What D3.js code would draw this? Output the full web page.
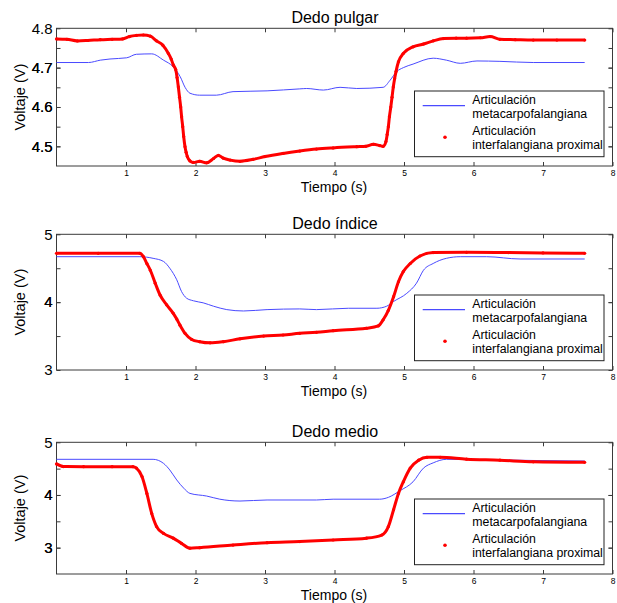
<!DOCTYPE html>
<html><head><meta charset="utf-8">
<script src="https://cdn.jsdelivr.net/npm/d3@7"></script>
<style>body{margin:0;background:#fff}svg{display:block}text{font-family:"Liberation Sans",Arial,sans-serif;fill:#000}</style>
</head><body><svg id="c" width="617" height="603"></svg>
<script>
const titles = ["Dedo pulgar", "Dedo índice", "Dedo medio"];
const legendLabels = [["Articulación","metacarpofalangiana"],["Articulación","interfalangiana proximal"]];
const xTicks = [1,2,3,4,5,6,7,8];
const yTicks1 = [4.5,4.6,4.7,4.8], yMinor1 = [4.5,4.55,4.6,4.65,4.7,4.75];
const yTicks2 = [3,4,5], yMinor2 = [3.5,4,4.5];
const yTicks3 = [3,4,5], yMinor3 = [3,3.5,4,4.5];
const yDomains = [[4.45,4.8],[3,5],[2.5,5]];

// Dedo pulgar
const p1RedT = [0,0.15,0.3,0.45,0.63,0.8,0.95,1.05,1.15,1.25,1.35,1.44,1.53,1.61,1.65,1.68,1.715,1.735,1.753,1.77,1.787,1.8,1.816,1.83,1.849,1.865,1.882,1.92,1.97,2.06,2.16,2.26,2.33,2.4,2.5,2.64,2.83,3.0,3.26,3.5,3.74,3.98,4.32,4.45,4.56,4.65,4.7,4.74,4.758,4.775,4.79,4.81,4.828,4.846,4.865,4.885,4.92,4.99,5.13,5.28,5.42,5.57,5.75,5.9,6.1,6.24,6.38,6.6,6.86,7.2,7.6];
const p1RedV = [4.773,4.772,4.768,4.769,4.771,4.772,4.773,4.779,4.782,4.783,4.780,4.768,4.757,4.736,4.722,4.707,4.695,4.675,4.651,4.625,4.600,4.575,4.550,4.525,4.499,4.485,4.474,4.463,4.459,4.462,4.458,4.469,4.477,4.470,4.465,4.462,4.467,4.474,4.482,4.488,4.493,4.496,4.499,4.500,4.505,4.502,4.500,4.512,4.530,4.550,4.575,4.600,4.625,4.651,4.672,4.690,4.715,4.736,4.753,4.760,4.768,4.774,4.775,4.775,4.776,4.779,4.772,4.771,4.770,4.770,4.770];
const p1BlueT = [0,0.46,0.63,0.77,1.01,1.15,1.37,1.54,1.68,1.78,1.85,1.92,2.06,2.3,2.54,3.03,3.5,3.6,3.84,4.08,4.32,4.7,4.8,4.895,4.99,5.13,5.42,5.61,5.81,6.05,6.38,6.86,7.6];
const p1BlueV = [4.713,4.713,4.719,4.722,4.725,4.734,4.735,4.719,4.702,4.677,4.650,4.635,4.630,4.630,4.639,4.641,4.646,4.647,4.643,4.650,4.647,4.650,4.668,4.690,4.700,4.709,4.724,4.719,4.711,4.717,4.716,4.713,4.713];

// Dedo índice
const p2RedT = [0,0.6,1.2,1.25,1.3,1.35,1.42,1.49,1.585,1.68,1.73,1.777,1.85,1.945,2.06,2.21,2.4,2.64,2.98,3.26,3.5,3.74,3.98,4.46,4.63,4.7,4.775,4.85,4.92,4.99,5.09,5.23,5.42,5.9,6.5,7.0,7.6];
const p2RedV = [4.72,4.72,4.72,4.67,4.57,4.47,4.28,4.105,3.96,3.835,3.75,3.66,3.54,3.45,3.417,3.40,3.417,3.46,3.50,3.516,3.54,3.555,3.58,3.615,3.65,3.74,3.88,4.08,4.30,4.45,4.57,4.68,4.73,4.735,4.73,4.725,4.72];
const p2BlueT = [0,1.2,1.39,1.54,1.63,1.73,1.8,1.87,1.97,2.11,2.26,2.45,2.69,3.03,3.5,3.74,4.2,4.61,4.75,4.85,5.04,5.18,5.28,5.42,5.61,5.81,6.19,6.67,7.6];
const p2BlueV = [4.67,4.67,4.646,4.60,4.50,4.33,4.155,4.06,4.02,3.99,3.94,3.89,3.87,3.89,3.90,3.89,3.91,3.91,3.94,4.01,4.13,4.28,4.47,4.57,4.646,4.67,4.67,4.636,4.636];

// Dedo medio
const p3RedT = [0,0.1,0.39,0.8,1.1,1.15,1.23,1.3,1.37,1.44,1.54,1.68,1.8,1.92,2.06,2.54,3.03,3.5,3.98,4.46,4.68,4.775,4.85,4.92,4.99,5.09,5.21,5.33,5.52,5.9,6.38,6.86,7.6];
const p3RedV = [4.59,4.54,4.537,4.537,4.537,4.51,4.35,4.03,3.65,3.40,3.27,3.18,3.08,2.99,3.0,3.05,3.095,3.115,3.145,3.18,3.24,3.40,3.72,4.03,4.25,4.51,4.66,4.715,4.715,4.68,4.66,4.63,4.62];
const p3BlueT = [0,1.39,1.54,1.63,1.73,1.83,1.92,2.16,2.35,2.64,3.03,3.74,3.98,4.65,4.775,4.94,5.13,5.28,5.42,5.61,6.38,6.86,7.6];
const p3BlueV = [4.677,4.677,4.60,4.475,4.285,4.13,4.03,3.98,3.92,3.885,3.905,3.905,3.92,3.92,3.955,4.08,4.25,4.51,4.61,4.677,4.665,4.655,4.645];

const panels = [
  {title:titles[0], dom:yDomains[0], ticks:yTicks1, minor:yMinor1, fmt:d3.format(".1f"), red:[p1RedT,p1RedV], blue:[p1BlueT,p1BlueV], top:28.3, bottom:166},
  {title:titles[1], dom:yDomains[1], ticks:yTicks2, minor:yMinor2, fmt:d3.format("d"), red:[p2RedT,p2RedV], blue:[p2BlueT,p2BlueV], top:234.3, bottom:370},
  {title:titles[2], dom:yDomains[2], ticks:yTicks3, minor:yMinor3, fmt:d3.format("d"), red:[p3RedT,p3RedV], blue:[p3BlueT,p3BlueV], top:442.3, bottom:574}
];

const svg = d3.select("#c");
const L = 56.5, R = 612.5;
const x = d3.scaleLinear().domain([0,8]).range([L,R]);
const axisCol = "#3a3a3a";
const BLUE = "#4a4aff", RED = "#ff0000";

panels.forEach(p => {
  const y = d3.scaleLinear().domain(p.dom).range([p.bottom,p.top]);
  const g = svg.append("g");
  const allY = p.minor.concat(p.ticks);
  g.append("g").attr("transform",`translate(0,${p.bottom})`)
    .call(d3.axisBottom(x).tickValues(xTicks).tickSize(-4).tickPadding(3.5).tickFormat(d3.format("d")))
    .call(a=>{a.select(".domain").remove();a.selectAll("line").attr("stroke",axisCol);a.selectAll("text").attr("font-size",8.5).attr("fill","#000");});
  g.append("g").attr("transform",`translate(0,${p.top})`)
    .call(d3.axisTop(x).tickValues(xTicks).tickSize(-4).tickFormat(""))
    .call(a=>{a.select(".domain").remove();a.selectAll("line").attr("stroke",axisCol);});
  g.append("g").attr("transform",`translate(${L},0)`)
    .call(d3.axisLeft(y).tickValues(allY).tickSize(-4).tickPadding(4).tickFormat(d=>p.ticks.some(t=>Math.abs(t-d)<1e-9)?p.fmt(d):""))
    .call(a=>{a.select(".domain").remove();a.selectAll("line").attr("stroke",axisCol);a.selectAll("text").attr("font-size",15).attr("fill","#000");});
  g.append("g").attr("transform",`translate(${R},0)`)
    .call(d3.axisRight(y).tickValues(allY).tickSize(-4).tickFormat(""))
    .call(a=>{a.select(".domain").remove();a.selectAll("line").attr("stroke",axisCol);});
  g.append("rect").attr("x",L).attr("y",p.top).attr("width",R-L).attr("height",p.bottom-p.top)
    .attr("fill","none").attr("stroke",axisCol).attr("stroke-width",1);

  const line = d3.line().x(d=>x(d[0])).y(d=>y(d[1])).curve(d3.curveMonotoneX);
  const blue = p.blue[0].map((t,i)=>[t,p.blue[1][i]]);
  const red = p.red[0].map((t,i)=>[t,p.red[1][i]]);
  g.append("path").datum(blue).attr("d",line).attr("fill","none").attr("stroke",BLUE).attr("stroke-width",1);
  g.append("path").datum(red).attr("d",line).attr("fill","none").attr("stroke",RED).attr("stroke-width",3).attr("stroke-linejoin","round");
  g.selectAll("circle.r").data(red).join("circle").attr("cx",d=>x(d[0])).attr("cy",d=>y(d[1])).attr("r",1.6).attr("fill",RED);

  g.append("text").attr("x",335).attr("y",p.top-5.5).attr("text-anchor","middle").attr("font-size",16).text(p.title);
  g.append("text").attr("x",334).attr("y",p.bottom+26).attr("text-anchor","middle").attr("font-size",14).text("Tiempo (s)");
  g.append("text").attr("transform",`translate(25,${(p.top+p.bottom)/2}) rotate(-90)`).attr("text-anchor","middle").attr("font-size",14.5).text("Voltaje (V)");

  const lb = p.bottom - 9.3, lt = lb - 65.7;
  const lg = g.append("g");
  lg.append("rect").attr("x",414.5).attr("y",lt).attr("width",189.5).attr("height",lb-lt).attr("fill","#fff").attr("stroke","#222").attr("stroke-width",1);
  lg.append("line").attr("x1",422.7).attr("x2",465).attr("y1",lt+14.7).attr("y2",lt+14.7).attr("stroke",BLUE).attr("stroke-width",1.2);
  lg.append("circle").attr("cx",445).attr("cy",lt+46.3).attr("r",1.8).attr("fill",RED);
  const lines = [[legendLabels[0][0],13],[legendLabels[0][1],26.7],[legendLabels[1][0],44],[legendLabels[1][1],58]];
  lines.forEach(([s,dy])=>lg.append("text").attr("x",472.3).attr("y",lt+dy).attr("font-size",12.3).text(s));
});
</script></body></html>
